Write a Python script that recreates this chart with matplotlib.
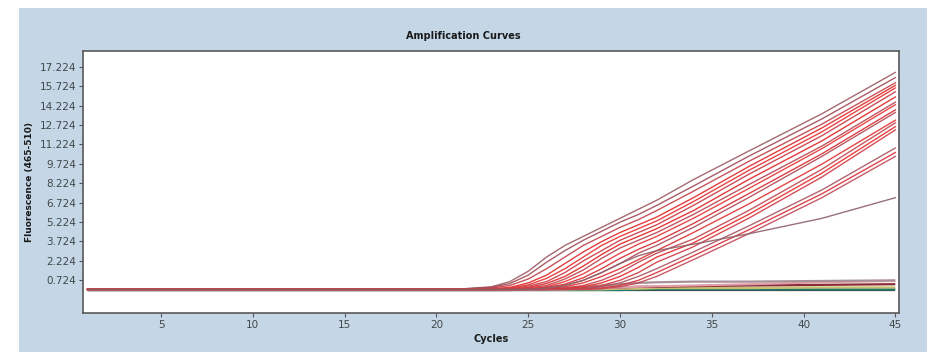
import matplotlib
matplotlib.use("Agg")
import matplotlib.pyplot as plt
from matplotlib.patches import Rectangle

cycles = [1, 21, 23, 24, 25, 26, 27, 28, 29, 30, 31, 32, 34, 37, 41, 45]

# red amplification curves (fluorescence at each cycle above)
c01 = [0, 0, 0.2, 0.6, 1.4, 2.5, 3.4, 4.1, 4.8, 5.5, 6.2, 6.9, 8.5, 10.7, 13.6, 16.8]
c02 = [0, 0, 0.15, 0.45, 1.1, 2.1, 3.0, 3.8, 4.5, 5.2, 5.8, 6.5, 8.0, 10.3, 13.2, 16.4]
c03 = [0, 0, 0.1, 0.3, 0.8, 1.6, 2.5, 3.4, 4.1, 4.8, 5.4, 6.1, 7.6, 9.9, 12.8, 16.0]
c04 = [0, 0, 0.05, 0.15, 0.5, 1.1, 2.0, 2.9, 3.7, 4.4, 5.0, 5.6, 7.1, 9.5, 12.5, 15.8]
c05 = [0, 0, 0, 0.1, 0.35, 0.85, 1.6, 2.5, 3.4, 4.1, 4.7, 5.3, 6.8, 9.2, 12.2, 15.6]
c06 = [0, 0, 0, 0.05, 0.25, 0.6, 1.3, 2.2, 3.0, 3.8, 4.4, 5.0, 6.5, 8.9, 11.9, 15.3]
c07 = [0, 0, 0, 0, 0.15, 0.45, 1.0, 1.8, 2.7, 3.5, 4.1, 4.7, 6.1, 8.5, 11.5, 14.9]
c08 = [0, 0, 0, 0, 0.1, 0.3, 0.8, 1.5, 2.4, 3.2, 3.8, 4.4, 5.8, 8.1, 11.1, 14.5]
c09 = [0, 0, 0, 0, 0.05, 0.2, 0.6, 1.2, 2.0, 2.8, 3.5, 4.1, 5.5, 7.8, 10.9, 14.3]
c10 = [0, 0, 0, 0, 0, 0.15, 0.4, 0.9, 1.6, 2.4, 3.1, 3.7, 5.1, 7.4, 10.5, 13.9]
c11 = [0, 0, 0, 0, 0, 0.1, 0.3, 0.7, 1.3, 2.0, 2.8, 3.4, 4.8, 7.1, 10.3, 13.7]
c12 = [0, 0, 0, 0, 0, 0.05, 0.2, 0.5, 1.0, 1.6, 2.3, 3.0, 4.4, 6.6, 9.7, 13.1]
c13 = [0, 0, 0, 0, 0, 0, 0.1, 0.3, 0.7, 1.3, 2.1, 2.8, 3.9, 6.1, 9.3, 12.9]
c14 = [0, 0, 0, 0, 0, 0, 0.05, 0.2, 0.5, 1.0, 1.7, 2.5, 3.6, 5.8, 9.0, 12.6]
c15 = [0, 0, 0, 0, 0, 0, 0, 0.1, 0.3, 0.7, 1.3, 2.1, 3.3, 5.5, 8.7, 12.35]
c16 = [0, 0, 0, 0, 0, 0, 0, 0.05, 0.2, 0.5, 1.0, 1.6, 2.9, 4.9, 7.7, 10.95]
c17 = [0, 0, 0, 0, 0, 0, 0, 0, 0.1, 0.3, 0.7, 1.3, 2.6, 4.6, 7.4, 10.6]
c18 = [0, 0, 0, 0, 0, 0, 0, 0, 0.05, 0.2, 0.5, 1.0, 2.3, 4.3, 7.1, 10.3]
c19 = [0, 0, 0, 0, 0, 0.1, 0.3, 0.7, 1.3, 2.0, 2.6, 3.0, 3.5, 4.3, 5.5, 7.1]
red_curves = [c01, c02, c03, c04, c05, c06, c07, c08, c09, c10,
              c11, c12, c13, c14, c15, c16, c17, c18, c19]
red_colors = ["#9a5a62", "#a04a55", "#c04048", "#e02828", "#e83030", "#c83a44",
              "#e02424", "#b84450", "#e83434", "#d82a30", "#b04a55", "#e03030",
              "#c04550", "#e82a2a", "#d03a44", "#a85560", "#d83038", "#c04a55",
              "#8e6068"]

# negative / weak samples that stay near the baseline
f1 = [0, 0, 0, 0, 0, 0.05, 0.1, 0.2, 0.3, 0.4, 0.5, 0.55, 0.6, 0.6, 0.65, 0.7]
f2 = [-0.05, -0.05, -0.05, -0.05, 0, 0, 0.05, 0.1, 0.1, 0.15, 0.2, 0.2, 0.25, 0.3, 0.35, 0.4]
f3 = [0, 0, 0, 0, 0, 0, 0, 0.05, 0.1, 0.15, 0.2, 0.25, 0.3, 0.4, 0.55, 0.65]
f4 = [0, 0, 0, 0, 0, 0, 0, 0, 0, 0.05, 0.05, 0.1, 0.1, 0.1, 0.15, 0.15]
f5 = [-0.05, -0.05, -0.05, -0.05, -0.05, -0.05, -0.05, -0.05, -0.05, -0.05, 0, 0, 0, 0, 0, 0]
f6 = [-0.05, -0.05, -0.05, -0.05, -0.05, -0.05, -0.05, -0.05, -0.05, -0.05, -0.05, -0.05, -0.05, -0.05, -0.05, -0.05]
flat_curves = [f6, f5, f4, f2, f3, f1]
flat_colors = ["#404040", "#1f7a6a", "#c8c070", "#8a2a35", "#e0a0a8", "#a89098"]

yticks = [0.724, 2.224, 3.724, 5.224, 6.724, 8.224, 9.724, 11.224,
          12.724, 14.224, 15.724, 17.224]
ytick_labels = ["0.724", "2.224", "3.724", "5.224", "6.724", "8.224", "9.724",
                "11.224", "12.724", "14.224", "15.724", "17.224"]
xticks = [5, 10, 15, 20, 25, 30, 35, 40, 45]

fig = plt.figure(figsize=(9.36, 3.59), dpi=100)
fig.patch.set_facecolor("white")
# light blue panel behind the plot
fig.patches.append(Rectangle((19 / 936, 7 / 359), 908 / 936, 344 / 359,
                             transform=fig.transFigure, facecolor="#c5d6e7",
                             edgecolor="none", zorder=0))

ax = fig.add_axes([83 / 936, 46 / 359, 816 / 936, 262 / 359])
ax.set_zorder(2)
ax.set_facecolor("white")

for curve, col in zip(flat_curves, flat_colors):
    ax.plot(cycles, curve, color=col, lw=1.6, solid_capstyle="butt")
for curve, col in zip(red_curves, red_colors):
    ax.plot(cycles, curve, color=col, lw=1.0, alpha=0.9)

ax.set_xlim(0.75, 45.2)
ax.set_ylim(-1.83, 18.46)
ax.set_xticks(xticks)
ax.set_yticks(yticks)
ax.set_yticklabels(ytick_labels)
ax.tick_params(axis="both", direction="out", length=3, width=0.8,
               labelsize=7.5, colors="#555555", labelcolor="#404848", pad=2)

for sp in ax.spines.values():
    sp.set_color("#5a5a5a")
    sp.set_linewidth(1.2)

fig.text(0.495, 0.9, "Amplification Curves", ha="center", va="center",
         fontsize=7, fontweight="bold", color="#1a1a1a", zorder=3)
ax.set_xlabel("Cycles", fontsize=7, fontweight="bold", color="#1a1a1a", labelpad=3)
ax.set_ylabel("Fluorescence (465-510)", fontsize=6.5, fontweight="bold",
              color="#1a1a1a", labelpad=4)

fig.savefig("out.png", dpi=100, facecolor=fig.get_facecolor())
